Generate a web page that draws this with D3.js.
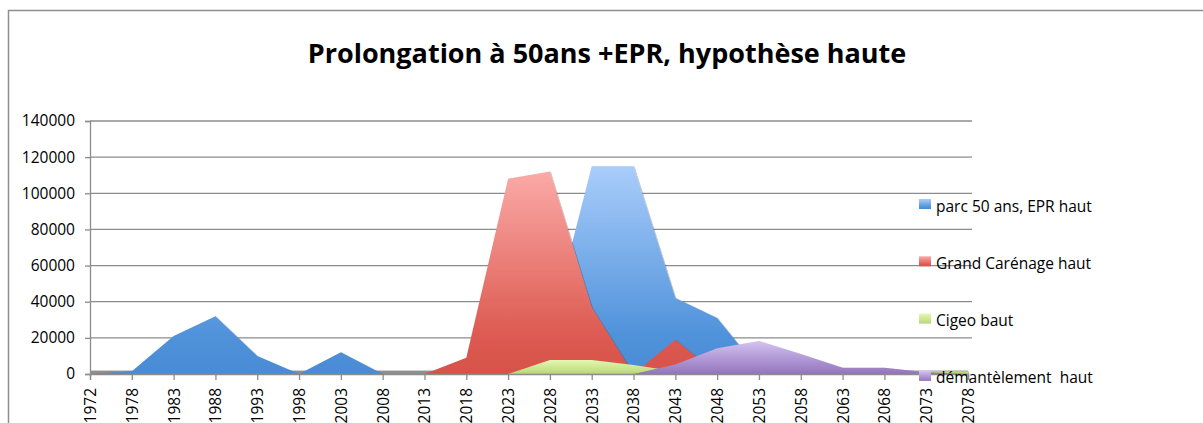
<!DOCTYPE html>
<html>
<head>
<meta charset="utf-8">
<script src="https://cdn.jsdelivr.net/npm/d3@7"></script>
<style>
  html, body { margin: 0; padding: 0; background: #fff; }
  svg { display: block; }
  text { font-family: "Open Sans", "Noto Sans", sans-serif; }
</style>
</head>
<body>
<svg id="chart" width="1203" height="423"></svg>
<script>
const title = "Prolongation à 50ans +EPR, hypothèse haute";
const categories = ["1972","1978","1983","1988","1993","1998","2003","2008","2013","2018","2023","2028","2033","2038","2043","2048","2053","2058","2063","2068","2073","2078"];
const yTicks = [0, 20000, 40000, 60000, 80000, 100000, 120000, 140000];
const seriesNames = ["parc 50 ans, EPR haut", "Grand Carénage haut", "Cigeo baut", "démantèlement  haut"];
const parc =           [0, 1500, 21000, 32000, 10000, 0, 12000, 0, 0, 0, 0, 24000, 115000, 115000, 42000, 31000, 2500, 0, 0, 0, 0, 0];
const grandCarenage =  [0, 0, 0, 0, 0, 0, 0, 0, 0, 9000, 108000, 112000, 37000, 0, 19000, 0, 0, 0, 0, 0, 0, 0];
const cigeo =          [0, 0, 0, 0, 0, 0, 0, 0, 0, 0, 0, 7700, 7700, 5000, 1500, 1500, 1500, 1500, 1500, 1500, 1500, 1500];
const demantelement =  [0, 0, 0, 0, 0, 0, 0, 0, 0, 0, 0, 0, 0, 0, 5200, 14300, 18300, 11000, 3500, 3500, 1000, 0];
const seriesValues = [parc, grandCarenage, cigeo, demantelement];
const gradients = [
  ["#a9cdfb", "#5193db", "#4a8bd4"],
  ["#fbaaa7", "#dd5b52", "#d6524a"],
  ["#e2f7ad", "#c2de86", "#b6d275"],
  ["#d4c3f1", "#a084c8", "#9474bd"]
];

const svg = d3.select("#chart");
const grey = "#8c8c8c";

// outer frame
svg.append("rect").attr("x", 8.5).attr("y", 10.5).attr("width", 1220).attr("height", 430)
  .attr("fill", "none").attr("stroke", "#8e8e8e").attr("stroke-width", 1.5);

// title
svg.append("text").attr("x", 607).attr("y", 63).attr("text-anchor", "middle")
  .attr("font-size", 27).attr("font-weight", "bold").attr("fill", "#000").text(title);

const x = d3.scalePoint().domain(categories).range([90, 968]);
const y = d3.scaleLinear().domain([0, 140000]).range([374, 121]);

const defs = svg.append("defs");
gradients.forEach((g, i) => {
  const lg = defs.append("linearGradient").attr("id", "g" + i)
    .attr("x1", 0).attr("y1", 0).attr("x2", 0).attr("y2", 1);
  lg.append("stop").attr("offset", "0%").attr("stop-color", g[0]);
  lg.append("stop").attr("offset", "80%").attr("stop-color", g[1]);
  lg.append("stop").attr("offset", "100%").attr("stop-color", g[2]);
});
const f = defs.append("filter").attr("id", "sh").attr("x", "-5%").attr("y", "-5%").attr("width", "110%").attr("height", "110%");
f.append("feDropShadow").attr("dx", 1).attr("dy", 0.5).attr("stdDeviation", 0.6)
  .attr("flood-color", "#000").attr("flood-opacity", 0.3);

// gridlines
svg.append("g").selectAll("line").data(yTicks.filter(d => d > 0)).join("line")
  .attr("x1", 90).attr("x2", 972).attr("y1", d => y(d)).attr("y2", d => y(d))
  .attr("stroke", grey).attr("stroke-width", 1.3);

// y axis
const yAxis = svg.append("g").attr("transform", "translate(90,0)")
  .call(d3.axisLeft(y).tickValues(yTicks).tickSize(5).tickPadding(10).tickFormat(d3.format("d")));
yAxis.select(".domain").attr("stroke", grey).attr("stroke-width", 1.3);
yAxis.selectAll(".tick line").attr("stroke", grey).attr("stroke-width", 1.3);
yAxis.selectAll(".tick text").attr("font-size", 15.5).attr("fill", "#000")
  .attr("font-family", "'Open Sans', sans-serif");

// baseline band
svg.append("rect").attr("x", 90).attr("y", y(1900)).attr("width", 878).attr("height", y(0) - y(1900))
  .attr("fill", "#8f8f8f");

// areas
const area = d3.area().x((d, i) => x(categories[i])).y0(y(0)).y1(d => y(d));
svg.append("g").selectAll("path").data(seriesValues).join("path")
  .attr("d", d => area(d)).attr("fill", (d, i) => `url(#g${i})`).attr("filter", "url(#sh)");

// x axis
const xAxis = svg.append("g").attr("transform", `translate(0,${y(0)})`)
  .call(d3.axisBottom(x).tickSize(6).tickPadding(0));
xAxis.select(".domain").attr("stroke", grey).attr("stroke-width", 1.3);
xAxis.selectAll(".tick line").attr("stroke", grey).attr("stroke-width", 1.3);
xAxis.selectAll(".tick text").attr("font-size", 15.5).attr("fill", "#000")
  .attr("font-family", "'Open Sans', sans-serif")
  .attr("transform", "rotate(-90)").attr("text-anchor", "end")
  .attr("x", -14).attr("y", 0).attr("dy", "0.35em");

// legend
const legend = svg.append("g").selectAll("g").data(seriesNames).join("g")
  .attr("transform", (d, i) => `translate(919,${199 + i * 57.3})`);
legend.append("rect").attr("width", 12).attr("height", 10).attr("fill", (d, i) => `url(#g${i})`);
legend.append("text").attr("x", 17).attr("y", 12.5).attr("font-size", 15.5).attr("fill", "#000")
  .style("white-space", "pre").attr("xml:space", "preserve").text(d => d);
</script>
</body>
</html>
